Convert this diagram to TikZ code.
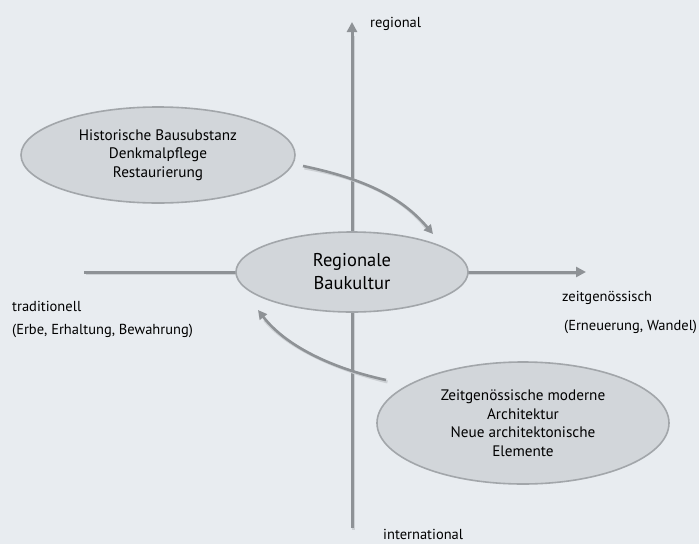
\documentclass[tikz,border=0pt]{standalone}
\usepackage{fontspec}
\setmainfont{PT Sans}
\usetikzlibrary{arrows.meta,shapes.geometric}
\definecolor{bg}{HTML}{E8ECF0}
\definecolor{ellfill}{HTML}{D2D6DA}
\definecolor{elldraw}{HTML}{A2A6AA}
\definecolor{axis}{HTML}{8E9296}
\definecolor{shadowc}{HTML}{CDD1D5}
\tikzset{
  bubble/.style={ellipse, draw=elldraw, line width=1.6pt, fill=ellfill, inner sep=0pt, align=center, text=black},
  axisline/.style={draw=axis, line width=3pt},
  flow/.style={draw=axis, line width=2.6pt, -{Triangle[length=9pt,width=9pt]}},
  shadowline/.style={draw=shadowc, line width=3pt},
  lbl/.style={anchor=west, inner sep=0pt, font=\fontsize{14.5}{16}\selectfont, text=black},
}
\begin{document}
\begin{tikzpicture}[x=1pt,y=-1pt]
\useasboundingbox (0,0) rectangle (699,544);
\fill[bg] (0,0) rectangle (699,544);
% axes
\coordinate (vb) at (352,528);
\coordinate (vt) at (352,22);
\coordinate (hl) at (84,272);
\coordinate (hr) at (586,272);
\draw[shadowline] ([shift={(1.5,1.5)}]vb) -- ([shift={(1.5,1.5)}]352,34);
\draw[shadowline] ([shift={(1.5,1.5)}]hl) -- ([shift={(1.5,1.5)}]574,272);
\draw[axisline, -{Triangle[length=10pt,width=10pt]}] (vb) -- (vt);
\draw[axisline, -{Triangle[length=10pt,width=10pt]}] (hl) -- (hr);
% ellipses
\node[bubble, minimum width=232pt, minimum height=80pt, font=\fontsize{18.5}{23}\selectfont] (c) at (352,272) {Regionale\\Baukultur};
\node[bubble, minimum width=274pt, minimum height=96pt, font=\fontsize{15.2}{18.5}\selectfont] (h) at (158,155) {Historische Bausubstanz\\Denkmalpflege\\Restaurierung};
\node[bubble, minimum width=292pt, minimum height=122pt, font=\fontsize{15.2}{18.5}\selectfont] (z) at (523,423) {Zeitgenössische moderne\\Architektur\\Neue architektonische\\Elemente};
% curved arrows
\coordinate (a1s) at (303,166);
\coordinate (a1e) at (433,234);
\coordinate (a2s) at (386,380);
\coordinate (a2e) at (258,310);
\draw[shadowline] ([shift={(1.5,2)}]a1s) .. controls (360,178) and (400,195) .. ([shift={(1.5,2)}]425,226);
\draw[flow] (a1s) .. controls (360,178) and (400,195) .. (a1e);
\draw[shadowline] ([shift={(1.5,2)}]a2s) .. controls (330,368) and (285,345) .. ([shift={(1.5,2)}]263,318);
\draw[flow] (a2s) .. controls (330,368) and (285,345) .. (a2e);
% labels
\node[lbl] (reg) at (370,24) {regional};
\node[lbl] (trad) at (12,306) {traditionell};
\node[lbl] (trad2) at (12,331) {(Erbe, Erhaltung, Bewahrung)};
\node[lbl] (zeit) at (562,298) {zeitgenössisch};
\node[lbl] (zeit2) at (564,327) {(Erneuerung, Wandel)};
\node[lbl] (intl) at (383,534) {international};
\end{tikzpicture}
\end{document}
